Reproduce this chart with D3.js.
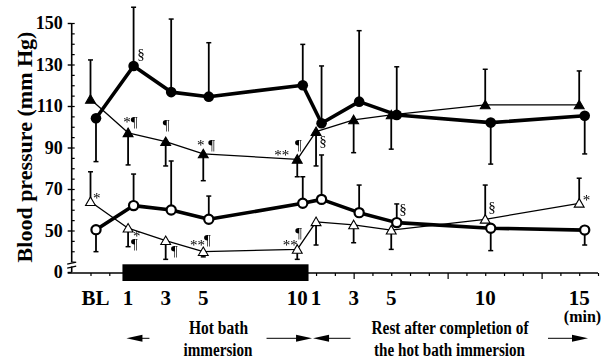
<!DOCTYPE html>
<html>
<head>
<meta charset="utf-8">
<script src="https://cdn.jsdelivr.net/npm/d3@7"></script>
<style>
  html, body { margin: 0; padding: 0; background: #fff; }
  svg { display: block; }
  .notes { filter: grayscale(100%); }
</style>
</head>
<body>
<svg id="chart" width="608" height="362"></svg>
<script>
// ---- data (mm Hg) ----
// time axis: BL = -1, immersion minutes 1..10, rest minutes add 10
const times = [-1, 1, 3, 5, 10, 11, 13, 15, 20, 25];
const tickLabels = ['BL', '1', '3', '5', '10', '1', '3', '5', '10', '15'];

// thick line, filled circles
const filledCircle = [104.1, 129.3, 116.7, 114.5, 120.0, 101.7, 112.1, 105.7, 102.0, 105.3];
const filledCircleSD = [-20.9, 28.3, 35.2, 26.0, 19.7, 27.6, 34.2, 23.2, -20.0, -18.4];
// thin line, filled triangles
const filledTriangle = [113.2, 97.1, 92.8, 86.9, 84.3, 97.6, 103.3, 105.7, 110.5, 110.5];
const filledTriangleSD = [19.0, -15.5, -11.7, -12.9, -8.4, -16.5, -15.8, -16.5, 17.2, 16.4];
// thick line, open circles
const openCircle = [50.4, 62.0, 59.9, 55.4, 63.1, 65.0, 58.6, 53.8, 51.1, 50.2];
const openCircleSD = [-10.6, 15.2, 23.6, 11.2, 12.8, 21.4, 13.3, 9.0, -10.8, -7.2];
// thin line, open triangles
const openTriangle = [63.9, 51.1, 45.1, 39.8, 40.9, 54.2, 52.7, 50.2, 55.4, 63.1];
const openTriangleSD = [14.4, -8.9, -9.0, -2.5, -4.8, -11.2, -8.6, -9.3, 16.5, 12.1];

// hot bath immersion period (time units)
const immersionSpan = [0.7, 10.6];

// significance marks: series, point index, text (\n stacks), pixel offset
const notes = [
  ['filledCircle', 1, '§', 3.6, -7],
  ['filledTriangle', 1, '*¶', -4.8, -5.7],
  ['filledTriangle', 2, '¶', -3, -11.7],
  ['filledTriangle', 3, '* ¶', -6.3, -3.5],
  ['filledTriangle', 4, '**', -23, 0.7],
  ['filledTriangle', 4, '¶', -2.3, -9.3],
  ['filledTriangle', 5, '§', 3.3, 14.3],
  ['openTriangle', 0, '*', 2.5, 1.6],
  ['openTriangle', 1, '*\n¶', 4.9, 13],
  ['openTriangle', 2, '¶', 5.3, 15.3],
  ['openTriangle', 3, '**', -13.3, -2],
  ['openTriangle', 3, '¶', 0.7, -6.7],
  ['openTriangle', 4, '**', -14.5, 0.5],
  ['openTriangle', 4, '¶', -2, -11.5],
  ['openCircle', 7, '§', 2.5, -8.2],
  ['openTriangle', 8, '§', 3, -7.5],
  ['openTriangle', 9, '*', 3.5, 2],
];

const SERIF = "'Liberation Serif', 'Times New Roman', Times, serif";

const svg = d3.select('#chart');

const x = d3.scaleLinear().domain([-2, 26]).range([71.7, 598]);
const y = d3.scaleLinear().domain([30, 150]).range([272, 23]);
const circleShift = 5.5; // circles drawn just right of the triangles

const series = {
  filledCircle: { values: filledCircle, sd: filledCircleSD, shape: 'circle', fill: '#000', width: 3.6, dx: circleShift },
  openCircle: { values: openCircle, sd: openCircleSD, shape: 'circle', fill: '#fff', width: 3.6, dx: circleShift },
  filledTriangle: { values: filledTriangle, sd: filledTriangleSD, shape: 'triangle', fill: '#000', width: 1.3, dx: 0 },
  openTriangle: { values: openTriangle, sd: openTriangleSD, shape: 'triangle', fill: '#fff', width: 1.3, dx: 0 },
};
const order = ['filledTriangle', 'openTriangle', 'filledCircle', 'openCircle'];

const px = (s, i) => x(times[i]) + series[s].dx;

// ---- axes ----
// y axis line with a break near zero
svg.append('line')
  .attr('x1', x(-2)).attr('x2', x(-2))
  .attr('y1', y(150)).attr('y2', y(30))
  .attr('stroke', '#000').attr('stroke-width', 1.6);

const yMinor = svg.append('g').attr('transform', `translate(${x(-2)},0)`)
  .call(d3.axisRight(y).tickValues(d3.range(35, 151, 5)).tickSize(3).tickFormat(''));
yMinor.select('.domain').remove();
yMinor.selectAll('line').attr('stroke-width', 1.2);

const yAxis = svg.append('g').attr('transform', `translate(${x(-2)},0)`)
  .call(d3.axisLeft(y).tickValues([30, 50, 70, 90, 110, 130, 150]).tickSize(4).tickPadding(5)
    .tickFormat(d => d === 30 ? '0' : d));
yAxis.select('.domain').remove();
yAxis.selectAll('line').attr('stroke-width', 1.4);
yAxis.selectAll('text')
  .attr('font-family', SERIF).attr('font-weight', 'bold').attr('font-size', 18).attr('fill', '#000');

// axis break marks
const brk = svg.append('g');
brk.append('rect').attr('x', x(-2) - 2).attr('y', 262.5).attr('width', 4).attr('height', 4).attr('fill', '#fff');
[263.2, 267.2].forEach(yy => {
  brk.append('line')
    .attr('x1', x(-2) - 4.5).attr('x2', x(-2) + 4.5)
    .attr('y1', yy + 1).attr('y2', yy - 1)
    .attr('stroke', '#000').attr('stroke-width', 1.3);
});

// x axis: one tick per minute, longer every five
const minuteTicks = d3.range(-1, 27);
const xAxis = svg.append('g').attr('transform', `translate(0,${y(30) + 1})`)
  .call(d3.axisBottom(x).tickValues(minuteTicks).tickSizeOuter(0).tickFormat('')
    .tickSize(3));
xAxis.select('.domain').attr('stroke-width', 1.6).attr('d', `M${x(-2) - 4},0H${x(26)}`);
xAxis.selectAll('.tick line')
  .attr('y2', d => (d >= 13 && (d - 13) % 5 === 0) ? 6 : 3)
  .attr('stroke-width', 1.2);

// tick labels
svg.append('g').selectAll('text')
  .data(times)
  .join('text')
  .attr('x', (d, i) => x(d) + (i === 0 ? 5 : 0))
  .attr('y', 305)
  .attr('text-anchor', 'middle')
  .attr('font-family', SERIF).attr('font-weight', 'bold').attr('font-size', 21)
  .text((d, i) => tickLabels[i]);

// immersion bar
svg.append('rect')
  .attr('x', x(immersionSpan[0]))
  .attr('width', x(immersionSpan[1]) - x(immersionSpan[0]))
  .attr('y', 264.3).attr('height', 16.7)
  .attr('fill', '#000');

// ---- series ----
const line = d3.line();
order.forEach(k => {
  const s = series[k];
  svg.append('path')
    .attr('d', line(s.values.map((v, i) => [px(k, i), y(v)])))
    .attr('fill', 'none').attr('stroke', '#000')
    .attr('stroke-width', s.width).attr('stroke-linejoin', 'round');
});

// one-sided SD bars
order.forEach(k => {
  const s = series[k];
  const g = svg.append('g').attr('stroke', '#000').attr('stroke-width', 1.8);
  s.values.forEach((v, i) => {
    const xx = px(k, i);
    const y0 = y(v), y1 = y(v + s.sd[i]);
    g.append('line').attr('x1', xx).attr('x2', xx).attr('y1', y0).attr('y2', y1);
    g.append('line').attr('x1', xx - 2.5).attr('x2', xx + 2.5).attr('y1', y1).attr('y2', y1).attr('stroke-width', 1.5);
  });
});

// markers
const tri = d3.symbol(d3.symbolTriangle, 42);
order.forEach(k => {
  const s = series[k];
  const g = svg.append('g');
  s.values.forEach((v, i) => {
    const xx = px(k, i), yy = y(v);
    if (s.shape === 'circle') {
      g.append('circle')
        .attr('cx', xx).attr('cy', yy)
        .attr('r', s.fill === '#000' ? 5.3 : 4.6)
        .attr('fill', s.fill).attr('stroke', '#000')
        .attr('stroke-width', s.fill === '#000' ? 0 : 2.2);
    } else {
      g.append('path')
        .attr('d', tri())
        .attr('transform', `translate(${xx},${yy + 1})`)
        .attr('fill', s.fill).attr('stroke', '#000').attr('stroke-width', 1.1);
    }
  });
});

// significance marks
const noteText = svg.append('g').attr('class', 'notes').selectAll('text')
  .data(notes)
  .join('text')
  .attr('x', d => px(d[0], d[1]) + d[3])
  .attr('y', d => y(series[d[0]].values[d[1]]) + d[4])
  .attr('font-family', SERIF).attr('font-size', 15).attr('fill', '#000');
noteText.each(function (d) {
  const el = d3.select(this);
  const parts = d[2].split('\n');
  const x0 = px(d[0], d[1]) + d[3];
  parts.forEach((p, j) => {
    el.append('tspan')
      .attr('x', x0 - j * 2)
      .attr('dy', j === 0 ? 0 : 7.5)
      .text(p);
  });
});

// ---- titles ----
svg.append('text')
  .attr('transform', `translate(32,${147}) rotate(-90)`)
  .attr('text-anchor', 'middle')
  .attr('font-family', SERIF).attr('font-weight', 'bold').attr('font-size', 22)
  .text('Blood pressure (mm Hg)');

const bottom = [
  ['Hot bath', 218.5, 334, 59],
  ['immersion', 218, 356, 69],
  ['Rest after completion of', 450, 334, 157],
  ['the hot bath immersion', 449.5, 356, 151],
];
svg.append('g').selectAll('text')
  .data(bottom)
  .join('text')
  .attr('x', d => d[1] - d[3] / 2)
  .attr('y', d => d[2])
  .attr('textLength', d => d[3])
  .attr('lengthAdjust', 'spacingAndGlyphs')
  .attr('font-family', SERIF).attr('font-weight', 'bold').attr('font-size', 18)
  .text(d => d[0]);

svg.append('text')
  .attr('x', 582.5).attr('y', 322)
  .attr('text-anchor', 'middle')
  .attr('font-family', SERIF).attr('font-weight', 'bold').attr('font-size', 16)
  .text('(min)');

// arrows under the time axis
function arrow(from, to) {
  const yy = 338.3;
  const dir = Math.sign(to - from);
  svg.append('line')
    .attr('x1', from).attr('x2', to - dir * 14)
    .attr('y1', yy).attr('y2', yy)
    .attr('stroke', '#000').attr('stroke-width', 1);
  svg.append('path')
    .attr('d', `M${to},${yy} L${to - dir * 16},${yy - 3.5} L${to - dir * 16},${yy + 3.5} Z`)
    .attr('fill', '#000');
}
arrow(x(immersionSpan[0]) + 27, x(immersionSpan[0]) + 4);
arrow(x(immersionSpan[1]) - 42, x(immersionSpan[1]) + 3.5);
arrow(x(immersionSpan[1]) + 42, x(immersionSpan[1]) + 4.5);
arrow(548, 588);
</script>
</body>
</html>
